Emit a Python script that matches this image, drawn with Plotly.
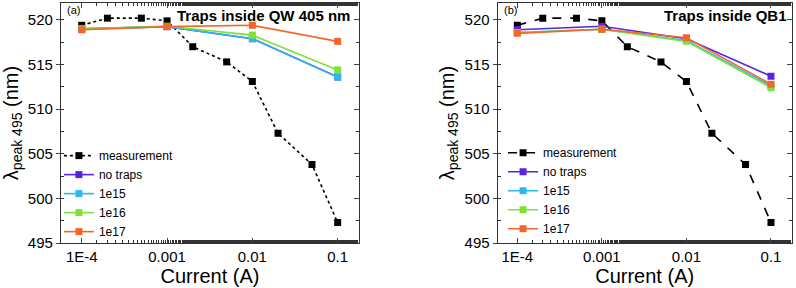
import plotly.graph_objects as go

# ---- data ----
meas_current = [1e-4, 2e-4, 5e-4, 1e-3, 2e-3, 5e-3, 1e-2, 2e-2, 5e-2, 1e-1]
meas_peak = [519.4, 520.2, 520.2, 519.9, 517.0, 515.3, 513.1, 507.3, 503.8, 497.3]

sim_current = [1e-4, 1e-3, 1e-2, 1e-1]
series_names = ["no traps", "1e15", "1e16", "1e17"]

# panel (a): traps inside QW 405 nm
qw_notraps = [519.0, 519.25, 517.9, 513.6]
qw_1e15 = [519.0, 519.25, 517.9, 513.6]
qw_1e16 = [519.0, 519.3, 518.3, 514.4]
qw_1e17 = [518.9, 519.25, 519.4, 517.6]

# panel (b): traps inside QB1
qb_notraps = [518.9, 519.3, 517.9, 513.7]
qb_1e15 = [518.6, 518.95, 517.7, 512.6]
qb_1e16 = [518.6, 518.95, 517.6, 512.4]
qb_1e17 = [518.5, 518.95, 518.0, 512.8]

x_ticks = [1e-4, 1e-3, 1e-2, 1e-1]
x_ticklabels = ["1E-4", "0.001", "0.01", "0.1"]
y_ticks = [495, 500, 505, 510, 515, 520]

colors = ["#5a23e2", "#2bb8ee", "#7ce23a", "#f2662a"]
FONT = "Liberation Sans, Arial, sans-serif"
H = 296  # figure height in px

fig = go.Figure()

def add_panel(xa, ya, leg, dash, data):
    fig.add_trace(go.Scatter(
        x=meas_current, y=meas_peak, mode="lines+markers", name="measurement",
        line=dict(color="black", width=1.6, dash=dash),
        marker=dict(symbol="square", size=7, color="black"),
        xaxis=xa, yaxis=ya, legend=leg))
    for name, vals, c in zip(series_names, data, colors):
        fig.add_trace(go.Scatter(
            x=sim_current, y=vals, mode="lines+markers", name=name,
            line=dict(color=c, width=1.6),
            marker=dict(symbol="square", size=7, color=c),
            xaxis=xa, yaxis=ya, legend=leg))

add_panel("x", "y", "legend", "dot", [qw_notraps, qw_1e15, qw_1e16, qw_1e17])
add_panel("x2", "y2", "legend2", "dash", [qb_notraps, qb_1e15, qb_1e16, qb_1e17])

ydom = [1 - 243 / 288, 1 - 3 / 288]
xdom1 = [61 / 796, 359 / 796]
xdom2 = [497.7 / 796, 791.7 / 796]

def xaxis_cfg(dom, rng):
    return dict(
        domain=dom, type="log", range=rng, tickvals=x_ticks, ticktext=x_ticklabels,
        ticks="inside", ticklen=5, tickwidth=1, mirror="ticks", showline=True,
        linecolor="#333", linewidth=1.2, showgrid=False, zeroline=False,
        tickfont=dict(family=FONT, size=15, color="black"),
        minor=dict(ticks="inside", ticklen=3, tickcolor="#333", showgrid=False),
        title=dict(text="Current (A)", font=dict(family=FONT, size=20, color="black"), standoff=2),
    )

def yaxis_cfg(anchor):
    return dict(
        domain=ydom, range=[495, 521.9], tickvals=y_ticks, anchor=anchor,
        ticks="outside", ticklen=4, tickwidth=1, mirror=True, showline=True,
        linecolor="#333", linewidth=1.2, showgrid=False, zeroline=False,
        tickfont=dict(family=FONT, size=15, color="black"),
        minor=dict(ticks="inside", ticklen=3, dtick=2.5, tickcolor="#333", showgrid=False),
        title=dict(text="λ<sub>peak 495</sub> (nm)", font=dict(family=FONT, size=20, color="black"), standoff=4),
    )

def yright_cfg(overlay, anchor):
    return dict(
        domain=ydom, range=[495, 521.9], tickvals=y_ticks, overlaying=overlay,
        side="right", anchor=anchor, ticks="inside", ticklen=5, showticklabels=False,
        showline=False, showgrid=False, zeroline=False,
        minor=dict(ticks="inside", ticklen=3, dtick=2.5, tickcolor="#333", showgrid=False),
    )

legend_common = dict(
    font=dict(family=FONT, size=12, color="black"), bgcolor="rgba(0,0,0,0)",
    tracegroupgap=0, itemwidth=30, yanchor="top", xanchor="left",
)

fig.update_layout(
    width=796, height=H, margin=dict(l=0, r=0, t=0, b=0),
    paper_bgcolor="white", plot_bgcolor="white",
    xaxis=xaxis_cfg(xdom1, [-4.243, -0.75]) | dict(anchor="y"),
    yaxis=yaxis_cfg("x"),
    xaxis2=xaxis_cfg(xdom2, [-4.232, -0.755]) | dict(anchor="y2"),
    yaxis2=yaxis_cfg("x2"),
    yaxis3=yright_cfg("y", "x"),
    yaxis4=yright_cfg("y2", "x2"),
    legend=dict(x=0.074, y=0.51, **legend_common),
    legend2=dict(x=0.632, y=0.520, **legend_common),
    showlegend=True,
)

# dummy traces to activate the right-side tick axes
fig.add_trace(go.Scatter(x=[None], y=[None], xaxis="x", yaxis="y3", showlegend=False, hoverinfo="skip"))
fig.add_trace(go.Scatter(x=[None], y=[None], xaxis="x2", yaxis="y4", showlegend=False, hoverinfo="skip"))

annots = [
    dict(x=xdom1[1] - 7 / 796, y=1 - 15 / 288, text="<b>Traps inside QW 405 nm</b>", xanchor="right"),
    dict(x=xdom2[1] - 3 / 796, y=1 - 15 / 288, text="<b>Traps inside QB1</b>", xanchor="right"),
]
for a in annots:
    fig.add_annotation(xref="paper", yref="paper", showarrow=False, yanchor="middle",
                       font=dict(family=FONT, size=15, color="black"), **a)
for x0, t in [(xdom1[0] + 4 / 796, "(a)"), (xdom2[0] + 4 / 796, "(b)")]:
    fig.add_annotation(xref="paper", yref="paper", x=x0, y=1 - 10 / 288, text=t, showarrow=False,
                       xanchor="left", yanchor="middle", font=dict(family=FONT, size=11, color="black"))

page_fix = (
    "var d=document.documentElement,b=document.body;"
    "d.style.margin='0';d.style.padding='0';d.style.overflow='hidden';"
    "b.style.margin='0';b.style.padding='0';b.style.overflow='hidden';"
)

fig.write_html(
    "out.html",
    config={"displayModeBar": False},
    post_script=page_fix,
)
